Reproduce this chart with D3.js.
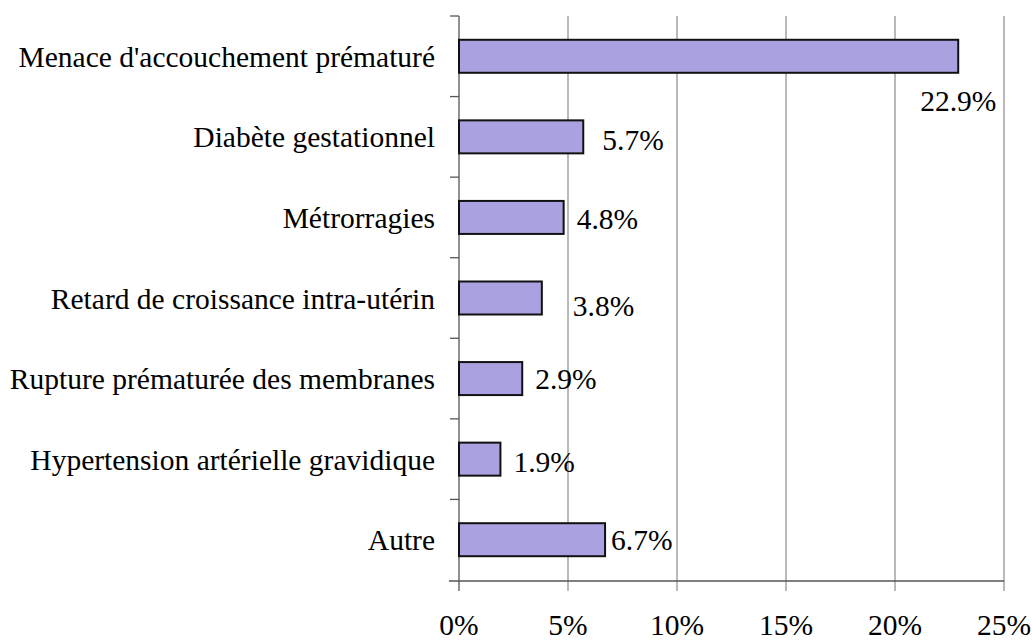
<!DOCTYPE html>
<html><head><meta charset="utf-8">
<script src="https://cdn.jsdelivr.net/npm/d3@7/dist/d3.min.js"></script>
<style>
html,body{margin:0;padding:0;background:#fff;}
svg{display:block;}
text{font-family:"Liberation Serif","Times New Roman",serif;fill:#000;}
</style></head>
<body><svg id="chart" width="1032" height="643"></svg>
<script>
const categories = [
  "Menace d'accouchement prématuré",
  "Diabète gestationnel",
  "Métrorragies",
  "Retard de croissance intra-utérin",
  "Rupture prématurée des membranes",
  "Hypertension artérielle gravidique",
  "Autre"
];
const values = [22.9, 5.7, 4.8, 3.8, 2.9, 1.9, 6.7];
const valueLabels = ["22.9%", "5.7%", "4.8%", "3.8%", "2.9%", "1.9%", "6.7%"];
const xTicks = [0, 5, 10, 15, 20, 25];
const xTickLabels = ["0%", "5%", "10%", "15%", "20%", "25%"];

// layout-only nudges of value labels (dx, dy) from bar end / bar centre
const labelNudge = [[-38, 44], [19, 3], [13, 1.5], [31, 7], [13, 0], [13, 2.5], [6, 0]];

const FS = 29.5;
const svg = d3.select("#chart");
const x = d3.scaleLinear().domain([0, 25]).range([459, 1004]);
const band = d3.scaleBand().domain(categories).range([16, 580]);
const cy = d => band(d) + band.bandwidth() / 2;

// gridlines (extend below axis as ticks)
svg.append("g").selectAll("line").data(xTicks.slice(1)).join("line")
  .attr("x1", d => x(d)).attr("x2", d => x(d))
  .attr("y1", 16).attr("y2", 591)
  .attr("stroke", "#8a8a8a").attr("stroke-width", 1.2);

// x axis
svg.append("line").attr("x1", 449).attr("x2", x(25)).attr("y1", 581).attr("y2", 581)
  .attr("stroke", "#555").attr("stroke-width", 1.3);
svg.append("line").attr("x1", x(0)).attr("x2", x(0)).attr("y1", 581).attr("y2", 591)
  .attr("stroke", "#555").attr("stroke-width", 1.3);
// y axis
svg.append("line").attr("x1", x(0)).attr("x2", x(0)).attr("y1", 16).attr("y2", 581)
  .attr("stroke", "#555").attr("stroke-width", 1.3);
svg.append("g").selectAll("line").data(categories).join("line")
  .attr("x1", 450).attr("x2", x(0))
  .attr("y1", d => band(d)).attr("y2", d => band(d))
  .attr("stroke", "#555").attr("stroke-width", 1.3);

// bars
svg.append("g").selectAll("rect").data(values).join("rect")
  .attr("x", x(0))
  .attr("y", (d, i) => cy(categories[i]) - 16.5)
  .attr("width", d => x(d) - x(0))
  .attr("height", 33)
  .attr("fill", "#aaa2e0")
  .attr("stroke", "#111").attr("stroke-width", 2);

// category labels
svg.append("g").selectAll("text").data(categories).join("text")
  .attr("x", 435)
  .attr("y", d => cy(d) + 10.5)
  .attr("text-anchor", "end")
  .attr("font-size", FS)
  .text(d => d);

// value labels
svg.append("g").selectAll("text").data(values).join("text")
  .attr("x", (d, i) => x(d) + labelNudge[i][0])
  .attr("y", (d, i) => cy(categories[i]) + 10.5 + labelNudge[i][1])
  .attr("font-size", FS)
  .text((d, i) => valueLabels[i]);

// x tick labels
svg.append("g").selectAll("text").data(xTicks).join("text")
  .attr("x", d => x(d))
  .attr("y", 635)
  .attr("text-anchor", "middle")
  .attr("font-size", FS)
  .text((d, i) => xTickLabels[i]);
</script>
</body></html>
